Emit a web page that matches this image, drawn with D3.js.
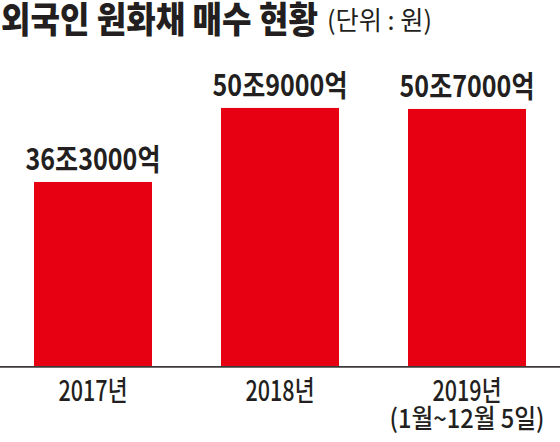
<!DOCTYPE html>
<html><head><meta charset="utf-8">
<script src="https://cdn.jsdelivr.net/npm/d3@7"></script>
<style>
html,body{margin:0;padding:0;background:#fff;}
svg{display:block;}
text{font-family:"Noto Sans CJK KR","Noto Sans",sans-serif;fill:#231f20;}
</style></head>
<body>
<svg id="c" width="560" height="442"></svg>
<script>
const categories = ["2017", "2018", "2019"];
const values = [36.3, 50.9, 50.7];
const valueLabels = ["36조3000억", "50조9000억", "50조7000억"];
const tickLabels = [["2017년"], ["2018년"], ["2019년", "(1월~12월 5일)"]];
const titleText = "외국인 원화채 매수 현황";
const unitText = "(단위 : 원)";

const svg = d3.select("#c");
const x = d3.scaleBand().domain(categories).range([34, 526]).paddingInner(0.369).paddingOuter(0);
const y = d3.scaleLinear().domain([0, 60]).range([366, 61.8]);

// condensed text: place at (cx, cy) with anchor, horizontally scaled to width w
function condensed(parent, str, cx, cy, w, size, weight, anchor) {
  const t = parent.append("text")
    .attr("font-size", size).attr("font-weight", weight)
    .attr("text-anchor", anchor).attr("x", 0).attr("y", 0)
    .text(str);
  const nat = t.node().getComputedTextLength();
  const s = w / nat;
  t.attr("transform", `translate(${cx},${cy}) scale(${s},1)`);
  return t;
}

// title
condensed(svg, titleText, 1, 33, 317, 36, 900, "start");
condensed(svg, unitText, 327, 30, 105, 26, 400, "start");

// bars
svg.selectAll("rect.bar").data(categories).join("rect")
  .attr("class", "bar")
  .attr("x", d => x(d))
  .attr("y", (d, i) => y(values[i]))
  .attr("width", x.bandwidth())
  .attr("height", (d, i) => y(0) - y(values[i]))
  .attr("fill", "#e60012");

// value labels
categories.forEach((d, i) => {
  condensed(svg, valueLabels[i], x(d) + x.bandwidth() / 2, y(values[i]) - 12, 135, 30, 700, "middle");
});

// baseline
svg.append("line").attr("x1", 0).attr("x2", 560)
  .attr("y1", y(0) + 0.8).attr("y2", y(0) + 0.8)
  .attr("stroke", "#3e3a39").attr("stroke-width", 1.7);

// x axis labels
const axis = d3.axisBottom(x).tickSize(0).tickFormat("");
const g = svg.append("g").attr("transform", `translate(0,${y(0)})`).call(axis);
g.select(".domain").remove();
g.selectAll(".tick").each(function(d, i) {
  const t = d3.select(this);
  tickLabels[i].forEach((s, j) => {
    condensed(t, s, 0, 35 + j * 26.5, j === 0 ? 69 : 155, j === 0 ? 28 : 26, 500, "middle")
      .attr("fill", "#231f20");
  });
});
</script>
</body></html>
